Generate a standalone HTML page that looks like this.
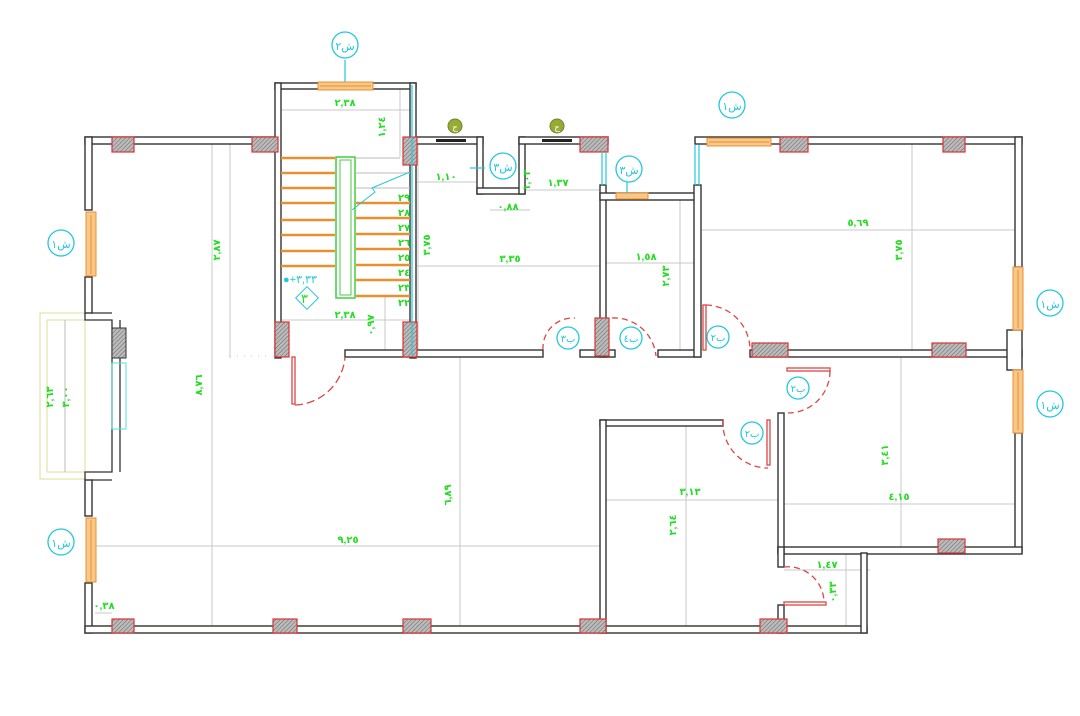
<!DOCTYPE html>
<html><head><meta charset="utf-8"><style>
html,body{margin:0;padding:0;background:#fff;}
svg{display:block;}
text{font-family:"Liberation Sans","DejaVu Sans",sans-serif;}
.g{fill:#22dd22;font-size:10px;font-weight:bold;}
.c{fill:#22c8dd;font-size:11px;}
</style></head><body>
<svg width="1080" height="716" viewBox="0 0 1080 716" xmlns="http://www.w3.org/2000/svg">
<defs>
<pattern id="h" width="3" height="3" patternUnits="userSpaceOnUse" patternTransform="rotate(45)">
<rect width="3" height="3" fill="#bbb"/><line x1="0" y1="0" x2="0" y2="3" stroke="#666" stroke-width="1"/></pattern>
</defs>
<rect width="1080" height="716" fill="#fff"/>

<g stroke="#c8c8c8" stroke-width="1" fill="none">
<line x1="212" y1="143" x2="212" y2="628"/>
<line x1="230" y1="143" x2="230" y2="358"/>
<line x1="230" y1="356" x2="270" y2="356" stroke-dasharray="1,6"/>
<line x1="281" y1="110" x2="410" y2="110"/>
<line x1="400" y1="89" x2="400" y2="157"/>
<line x1="281" y1="320" x2="410" y2="320"/>
<line x1="385" y1="295" x2="385" y2="355"/>
<line x1="416" y1="182" x2="480" y2="182"/>
<line x1="490" y1="210" x2="530" y2="210"/>
<line x1="525" y1="190" x2="600" y2="190"/>
<line x1="418" y1="143" x2="418" y2="355"/>
<line x1="416" y1="266" x2="600" y2="266"/>
<line x1="606" y1="263" x2="695" y2="263"/>
<line x1="680" y1="200" x2="680" y2="350"/>
<line x1="701" y1="230" x2="1016" y2="230"/>
<line x1="912" y1="143" x2="912" y2="350"/>
<line x1="901" y1="357" x2="901" y2="547"/>
<line x1="784" y1="504" x2="1016" y2="504"/>
<line x1="606" y1="500" x2="780" y2="500"/>
<line x1="686" y1="426" x2="686" y2="628"/>
<line x1="460" y1="357" x2="460" y2="628"/>
<line x1="91" y1="546" x2="600" y2="546"/>
<line x1="784" y1="570" x2="870" y2="570"/>
<line x1="846" y1="553" x2="846" y2="628"/>
<line x1="95" y1="613" x2="112" y2="613"/>
</g>
<line x1="86" y1="626" x2="866" y2="626" stroke="#f0f080" stroke-width="1.5"/>
<polyline points="860,553 862,553 862,628" stroke="#f0f080" stroke-width="1.5" fill="none"/>

<g fill="none" stroke="#dede9a" stroke-width="1">
<rect x="40" y="313" width="45" height="166"/>
<rect x="47" y="320" width="38" height="152"/>
</g>
<line x1="65" y1="320" x2="65" y2="472" stroke="#bbb"/>
<g fill="none" stroke="#333" stroke-width="1.3">
<polyline points="85,313 85,320 112,320 112,472 85,472 85,480"/>
<polyline points="91,313 112,313"/><polyline points="91,480 112,480"/>
<line x1="120" y1="320" x2="120" y2="472"/>
</g>
<rect x="112" y="328" width="14" height="30" fill="url(#h)" stroke="#333"/>
<rect x="112" y="363" width="14" height="66" fill="none" stroke="#5dd" stroke-width="1"/>

<g fill="#fff" stroke="#333" stroke-width="1.4">
<rect x="85" y="137" width="190" height="7"/>
<rect x="85" y="137" width="7" height="73"/>
<rect x="85" y="277" width="7" height="36"/>
<rect x="85" y="480" width="7" height="36"/>
<rect x="85" y="583" width="7" height="50"/>
<rect x="85" y="626" width="782" height="7"/>
<rect x="275" y="83" width="45" height="6"/>
<rect x="372" y="83" width="44" height="6"/>
<rect x="275" y="83" width="6" height="275"/>
<rect x="410" y="83" width="6" height="275"/>
<rect x="345" y="350" width="198" height="7"/>
<rect x="580" y="350" width="35" height="7"/>
<rect x="658" y="350" width="42" height="7"/>
<rect x="750" y="350" width="272" height="7"/>
<rect x="416" y="137" width="67" height="7"/>
<rect x="477" y="137" width="6" height="57"/>
<rect x="477" y="188" width="48" height="6"/>
<rect x="519" y="137" width="6" height="57"/>
<rect x="519" y="137" width="89" height="7"/>
<rect x="600" y="185" width="6" height="172"/>
<rect x="600" y="193" width="100" height="7"/>
<rect x="694" y="185" width="7" height="172"/>
<rect x="695" y="137" width="327" height="7"/>
<rect x="1015" y="137" width="7" height="130"/>
<rect x="1007" y="330" width="15" height="40"/>
<rect x="1015" y="433" width="7" height="120"/>
<rect x="778" y="547" width="244" height="7"/>
<rect x="778" y="413" width="6" height="140"/>
<rect x="778" y="547" width="6" height="20"/>
<rect x="778" y="605" width="6" height="28"/>
<rect x="600" y="420" width="123" height="6"/>
<rect x="600" y="420" width="6" height="213"/>
<rect x="861" y="553" width="6" height="80"/>
</g>

<g fill="url(#h)" stroke="#d33" stroke-width="1.2">
<rect x="112" y="137" width="22" height="15"/>
<rect x="252" y="137" width="26" height="15"/>
<rect x="580" y="137" width="28" height="15"/>
<rect x="780" y="137" width="28" height="15"/>
<rect x="943" y="137" width="22" height="15"/>
<rect x="112" y="619" width="22" height="14"/>
<rect x="273" y="619" width="24" height="14"/>
<rect x="403" y="619" width="28" height="14"/>
<rect x="580" y="619" width="26" height="14"/>
<rect x="760" y="619" width="27" height="14"/>
<rect x="275" y="322" width="14" height="35"/>
<rect x="403" y="322" width="14" height="35"/>
<rect x="403" y="137" width="14" height="28"/>
<rect x="595" y="318" width="14" height="38"/>
<rect x="752" y="343" width="36" height="14"/>
<rect x="932" y="343" width="34" height="14"/>
<rect x="938" y="539" width="27" height="14"/>
</g>

<g fill="#f8c888" stroke="#e89030" stroke-width="1">
<rect x="86" y="212" width="10" height="64"/>
<rect x="86" y="518" width="10" height="64"/>
<rect x="1013" y="267" width="10" height="63"/>
<rect x="1013" y="370" width="10" height="63"/>
<rect x="318" y="82" width="55" height="8"/>
<rect x="707" y="138" width="64" height="8"/>
<rect x="616" y="193" width="32" height="6"/>
</g>
<g stroke="#e89030" stroke-width="1">
<line x1="91" y1="215" x2="91" y2="274"/><line x1="91" y1="520" x2="91" y2="580"/>
<line x1="1018" y1="270" x2="1018" y2="328"/><line x1="1018" y1="372" x2="1018" y2="430"/>
<line x1="320" y1="86" x2="371" y2="86"/><line x1="709" y1="142" x2="769" y2="142"/>
</g>
<g fill="#222"><rect x="436" y="139" width="30" height="3"/><rect x="542" y="139" width="30" height="3"/></g>
<g stroke="#22c8dd" stroke-width="1.2">
<line x1="412" y1="85" x2="412" y2="355"/>
<line x1="602" y1="152" x2="602" y2="185"/><line x1="606" y1="152" x2="606" y2="185"/>
<line x1="695" y1="145" x2="695" y2="185"/><line x1="699" y1="145" x2="699" y2="185"/>
<line x1="345" y1="60" x2="345" y2="82"/>
<line x1="627" y1="180" x2="627" y2="193"/>
<line x1="470" y1="168" x2="485" y2="168"/>
</g>

<g stroke="#e89030" stroke-width="2.5">
<line x1="281" y1="158" x2="335" y2="158"/><line x1="281" y1="173" x2="335" y2="173"/>
<line x1="281" y1="188" x2="335" y2="188"/><line x1="281" y1="203" x2="335" y2="203"/>
<line x1="281" y1="220" x2="335" y2="220"/><line x1="281" y1="235" x2="335" y2="235"/>
<line x1="281" y1="251" x2="335" y2="251"/><line x1="281" y1="266" x2="335" y2="266"/>
<line x1="356" y1="203" x2="410" y2="203"/><line x1="356" y1="218" x2="410" y2="218"/>
<line x1="356" y1="234" x2="410" y2="234"/><line x1="356" y1="249" x2="410" y2="249"/>
<line x1="356" y1="265" x2="410" y2="265"/><line x1="356" y1="280" x2="410" y2="280"/>
<line x1="356" y1="296" x2="410" y2="296"/>
</g>
<g stroke="#bbb" stroke-width="1"><line x1="356" y1="173" x2="410" y2="173"/><line x1="356" y1="188" x2="410" y2="188"/><line x1="356" y1="158" x2="400" y2="158"/></g>
<polyline points="352,210 375,192 372,188 410,172" stroke="#22c8dd" fill="none"/>
<rect x="336" y="157" width="19" height="141" fill="none" stroke="#4c4" stroke-width="1.5"/>
<rect x="340" y="160" width="11" height="135" fill="none" stroke="#4c4" stroke-width="1"/>
<g class="g" font-size="9"><text x="398" y="201">٢٩</text><text x="398" y="216">٢٨</text><text x="398" y="231">٢٧</text><text x="398" y="246">٢٦</text><text x="398" y="261">٢٥</text><text x="398" y="276">٢٤</text><text x="398" y="291">٢٣</text><text x="398" y="306">٢٢</text></g>
<rect x="299" y="290" width="16" height="16" transform="rotate(45 307 298)" fill="none" stroke="#22c8dd"/>
<text x="301" y="303" fill="#22dd22" font-size="13">٣</text>
<text x="283" y="283" class="c" font-size="10">●+٣,٣٣</text>

<g fill="none" stroke="#d44" stroke-width="1.3">
<rect x="292" y="357" width="3" height="47"/>
<path d="M295,405 A52,52 0 0 0 345,357" stroke-dasharray="8,4"/>
<path d="M543,350 A30,30 0 0 1 575,318" stroke-dasharray="6,4"/>
<path d="M612,318 A42,42 0 0 1 656,356" stroke-dasharray="6,4"/>
<rect x="703" y="305" width="3" height="45"/>
<path d="M706,305 A45,45 0 0 1 750,350" stroke-dasharray="6,4"/>
<rect x="787" y="368" width="43" height="3"/>
<path d="M830,371 A42,42 0 0 1 788,413" stroke-dasharray="6,4"/>
<rect x="767" y="420" width="3" height="45"/>
<path d="M723,420 A45,45 0 0 0 768,468" stroke-dasharray="6,4"/>
<rect x="784" y="602" width="42" height="3"/>
<path d="M784,567 A36,36 0 0 1 824,602" stroke-dasharray="6,4"/>
</g>

<g fill="#fff" stroke="#22c8dd" stroke-width="1.3">
<circle cx="345" cy="45" r="13"/><circle cx="732" cy="105" r="13"/>
<circle cx="61" cy="243" r="13"/><circle cx="61" cy="542" r="13"/>
<circle cx="1050" cy="303" r="13"/><circle cx="1050" cy="404" r="13"/>
<circle cx="503" cy="166" r="13"/><circle cx="629" cy="169" r="13"/>
<circle cx="568" cy="338" r="11"/><circle cx="631" cy="338" r="11"/>
<circle cx="718" cy="337" r="11"/><circle cx="798" cy="388" r="11"/><circle cx="752" cy="433" r="11"/>
</g>
<g class="c" text-anchor="middle" font-size="12">
<text x="345" y="50">ش٢</text><text x="732" y="110">ش١</text>
<text x="61" y="248">ش١</text><text x="61" y="547">ش١</text>
<text x="1050" y="308">ش١</text><text x="1050" y="409">ش١</text>
<text x="503" y="171">ش٣</text><text x="629" y="174">ش٣</text>
<text x="568" y="342" font-size="10">ب٣</text><text x="631" y="342" font-size="10">ب٤</text>
<text x="718" y="341" font-size="10">ب٢</text><text x="798" y="392" font-size="10">ب٢</text><text x="752" y="437" font-size="10">ب٢</text>
</g>
<g><circle cx="455" cy="126" r="7" fill="#9a3" stroke="#683"/><circle cx="557" cy="126" r="7" fill="#9a3" stroke="#683"/>
<text x="455" y="130" font-size="9" fill="#fff" text-anchor="middle">ج</text><text x="557" y="130" font-size="9" fill="#fff" text-anchor="middle">ج</text></g>

<g class="g" text-anchor="middle">
<text x="345" y="106">٢,٣٨</text>
<text x="345" y="318">٢,٣٨</text>
<text x="446" y="180">١,١٠</text>
<text x="508" y="210">٠,٨٨</text>
<text x="558" y="186">١,٣٧</text>
<text x="510" y="262">٣,٣٥</text>
<text x="646" y="260">١,٥٨</text>
<text x="858" y="226">٥,٦٩</text>
<text x="690" y="495">٣,١٣</text>
<text x="899" y="500">٤,١٥</text>
<text x="348" y="543">٩,٢٥</text>
<text x="827" y="568">١,٤٧</text>
<text x="104" y="609">٠,٣٨</text>
</g>
<g class="g" text-anchor="middle">
<text transform="translate(220,250) rotate(-90)">٢,٨٧</text>
<text transform="translate(202,385) rotate(-90)">٨,٧٦</text>
<text transform="translate(430,245) rotate(-90)">٣,٧٥</text>
<text transform="translate(669,276) rotate(-90)">٢,٧٣</text>
<text transform="translate(902,250) rotate(-90)">٣,٧٥</text>
<text transform="translate(888,455) rotate(-90)">٣,٤١</text>
<text transform="translate(676,525) rotate(-90)">٢,٦٤</text>
<text transform="translate(451,495) rotate(-90)">٦,٨٩</text>
<text transform="translate(385,127) rotate(-90)">١,٢٤</text>
<text transform="translate(374,325) rotate(-90)">٠,٩٧</text>
<text transform="translate(530,180) rotate(-90)">١,٠٢</text>
<text transform="translate(836,592) rotate(-90)">٠,٣٣</text>
<text transform="translate(53,397) rotate(-90)">٢,٦٣</text>
<text transform="translate(69,397) rotate(-90)">٣,٠٠</text>
</g>
</svg>
</body></html>
